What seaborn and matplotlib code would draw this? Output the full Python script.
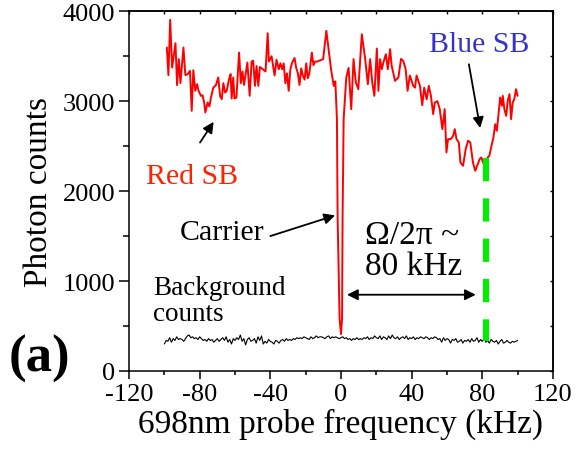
import numpy as np
import pandas as pd
import matplotlib
matplotlib.use("Agg")
import matplotlib.pyplot as plt
import seaborn as sns

# Fluorescence signal while scanning the 698 nm probe
probe_freq = [
    -98.6, -97.7, -96.7, -95.6, -93.7, -92.8, -91.8, -90.9, -89.2, -88.1,
    -86.8, -85.5, -84.5, -83.6, -82.5, -81.5, -80.6, -79.3, -78.4, -77.4,
    -76.8, -75.5, -74.5, -73.6, -72.3, -70.8, -69.5, -68.4, -67.5, -66.6,
    -65.6, -64.7, -63.4, -62.5, -61.9, -61.0, -60.3, -59.2, -57.7, -56.7,
    -55.8, -54.9, -53.0, -51.7, -50.6, -49.7, -48.7, -47.8, -46.8, -45.9,
    -44.6, -42.7, -41.5, -40.8, -39.3, -37.6, -36.5, -35.2, -34.3, -33.3,
    -32.4, -31.5, -30.6, -29.6, -28.7, -27.8, -26.3, -25.3, -24.4, -23.5,
    -22.5, -21.6, -20.6, -19.7, -18.8, -17.9, -16.5, -15.6, -14.7, -13.5,
    -10.1, -8.3, -7.0, -5.6, -4.1, -3.2, -2.3, -1.9, -0.8, 0.0,
    0.6, 0.9, 1.5, 3.0, 4.3, 5.8, 7.1, 8.4, 9.8, 11.8,
    13.7, 15.2, 16.5, 17.7, 18.9, 20.3, 21.2, 22.1, 23.1, 24.0,
    25.4, 26.5, 27.8, 28.7, 30.6, 32.5, 34.0, 35.3, 36.6, 37.7,
    39.0, 40.9, 41.9, 42.8, 44.7, 46.0, 47.1, 48.5, 49.7, 50.9,
    52.2, 53.1, 54.6, 55.9, 57.4, 58.7, 59.7, 60.6, 62.2, 63.5,
    64.4, 65.4, 66.7, 67.6, 69.1, 70.6, 71.9, 73.2, 74.7, 76.0,
    77.1, 78.5, 79.4, 80.8, 83.1, 84.0, 85.0, 86.3, 87.3, 88.2,
    89.2, 90.1, 91.1, 91.6, 92.5, 93.5, 94.4, 95.4, 96.3, 97.2,
    98.1, 99.1, 100.0,
]
photon_counts = [
    3596, 3289, 3904, 3374, 3644, 3178, 3467, 3200, 3596, 3289,
    3300, 3337, 2893, 3344, 3115, 3189, 3115, 3059, 3066, 2978,
    2874, 2985, 2941, 3040, 3150, 3178, 3263, 3052, 3022, 3200,
    3096, 3115, 3244, 3300, 3030, 3263, 3030, 3040, 3540, 3200,
    3330, 3180, 3430, 3060, 3440, 3450, 3170, 3390, 3170, 3380,
    3360, 3330, 3755, 3440, 3500, 3285, 3460, 3355, 3420, 3355,
    3420, 3200, 3310, 3115, 3350, 3420, 3480, 3365, 3310, 3180,
    3365, 3285, 3240, 3420, 3255, 3310, 3540, 3400, 3440, 3440,
    3467, 3782, 3570, 3350, 3170, 3220, 2800, 1700, 580, 410,
    580, 1700, 2800, 3264, 3370, 2911, 3467, 3211, 3133, 3744,
    3467, 3189, 3467, 3207, 3059, 3585, 3115, 3467, 3356, 3430,
    3522, 3356, 3578, 3392, 3226, 3263, 3470, 3445, 3356, 3115,
    3285, 3170, 3150, 3285, 3170, 2955, 3150, 3020, 3170, 3060,
    2855, 2985, 3000, 2911, 2689, 2911, 2430, 2578, 2578, 2615,
    2689, 2578, 2541, 2319, 2281, 2467, 2560, 2541, 2319, 2226,
    2281, 2356, 2374, 2300, 2374, 2393, 2485, 2596, 2744, 2670,
    2856, 3041, 2948, 3059, 2911, 2837, 3004, 3078, 2800, 2985,
    3022, 3133, 3059,
]

# Background counts, probe detuned from resonance (1 kHz steps)
bg_freq = list(range(-100, 101))
bg_counts = [
    300, 340, 330, 370, 320, 360, 340, 380, 350, 360, 350, 330, 360, 390, 400, 370, 380, 360, 370, 350,
    380, 360, 340, 350, 330, 360, 340, 350, 320, 340, 360, 330, 350, 370, 340, 380, 320, 350, 300, 360,
    340, 370, 350, 400, 330, 360, 290, 350, 370, 330, 340, 360, 310, 380, 340, 390, 300, 330, 310, 350,
    330, 320, 300, 340, 330, 310, 340, 350, 330, 360, 340, 350, 340, 360, 350, 370, 360, 370, 360, 380,
    370, 360, 350, 380, 360, 370, 390, 370, 380, 380, 370, 360, 380, 390, 360, 380, 370, 380, 370, 360,
    370, 380, 360, 370, 350, 360, 340, 360, 350, 370, 350, 360, 350, 370, 360, 380, 350, 370, 360, 390,
    370, 360, 390, 350, 380, 370, 350, 390, 360, 400, 370, 360, 380, 350, 370, 380, 360, 390, 350, 370,
    360, 380, 350, 370, 360, 380, 370, 360, 380, 370, 350, 370, 360, 380, 370, 350, 360, 320, 370, 340,
    360, 350, 310, 350, 340, 360, 320, 330, 350, 310, 340, 330, 350, 320, 360, 330, 340, 370, 320, 350,
    330, 360, 320, 340, 310, 350, 330, 320, 340, 300, 330, 350, 310, 320, 340, 320, 310, 330, 320, 330, 340,
]

# Blue sideband marker
sideband_freq = 82
sideband_range = [2370, 330]

x_ticks = [-120, -80, -40, 0, 40, 80, 120]
y_ticks = [0, 1000, 2000, 3000, 4000]

sns.set_style("ticks")
plt.rcParams["font.family"] = ["Liberation Serif", "DejaVu Serif"]
plt.rcParams["axes.unicode_minus"] = False
plt.rcParams["axes.linewidth"] = 1.1
plt.rcParams["text.color"] = "black"
plt.rcParams["axes.labelcolor"] = "black"
plt.rcParams["xtick.color"] = "black"
plt.rcParams["ytick.color"] = "black"
plt.rcParams["axes.edgecolor"] = "black"

fig = plt.figure(figsize=(5.76, 4.52), dpi=100)
ax = fig.add_axes([0.224, 0.177, 0.736, 0.796])

signal = pd.DataFrame({"freq": probe_freq, "counts": photon_counts})
background = pd.DataFrame({"freq": bg_freq, "counts": bg_counts})

sns.lineplot(data=signal, x="freq", y="counts", sort=False, estimator=None,
             color="#ff0000", linewidth=1.4, ax=ax, zorder=3)
sns.lineplot(data=background, x="freq", y="counts", sort=False, estimator=None,
             color="black", linewidth=0.8, ax=ax, zorder=3)
ax.plot([sideband_freq, sideband_freq], sideband_range, color="#00ee00",
        linewidth=4.4, dashes=(3.8, 2.8), solid_capstyle="butt", zorder=4)

ax.set_xlim(-120, 120)
ax.set_ylim(0, 4000)
ax.set_xticks(x_ticks)
ax.set_xticklabels([str(v) for v in x_ticks])
ax.set_yticks(y_ticks)
ax.set_yticklabels([str(v) for v in y_ticks])
ax.set_xticks(np.arange(-120, 121, 20), minor=True)
ax.set_yticks(np.arange(0, 4001, 500), minor=True)
ax.tick_params(axis="both", which="major", direction="out", labelsize=19,
               width=1.1, colors="black")
ax.tick_params(axis="y", which="major", length=7.5, pad=2.5)
ax.tick_params(axis="y", which="minor", length=4, width=1.1, direction="out")
ax.tick_params(axis="x", which="major", length=5.5, pad=3)
ax.tick_params(axis="x", which="minor", length=3, width=1.1, direction="out")
for s in ax.spines.values():
    s.set_visible(True)
    s.set_color("black")

top = ax.secondary_xaxis("top")
top.set_xticks(np.arange(-120, 121, 20))
top.set_xticklabels([])
top.tick_params(direction="in", length=2.5, width=1.0, colors="black")
right = ax.secondary_yaxis("right")
right.set_yticks(np.arange(0, 4001, 500))
right.set_yticklabels([])
right.tick_params(direction="in", length=2.5, width=1.0, colors="black")

ax.set_xlabel("698nm probe frequency (kHz)", fontsize=24, labelpad=2,
              color="black")
ax.set_ylabel("Photon counts", fontsize=24, labelpad=6, color="black")

arrow = dict(arrowstyle="-|>", color="black", lw=1.3, mutation_scale=16,
             shrinkA=0, shrinkB=0)
ax.text(-84.3, 2170, "Red SB", color="#ff2200", fontsize=21.5,
        ha="center", va="center")
ax.annotate("", xy=(-72.1, 2770), xytext=(-79.8, 2540), arrowprops=arrow)
ax.text(78.5, 3640, "Blue SB", color="#3333cc", fontsize=21.5,
        ha="center", va="center")
ax.annotate("", xy=(78.8, 2700), xytext=(72.4, 3410), arrowprops=arrow)
ax.text(-67.4, 1545, "Carrier", color="black", fontsize=21.5,
        ha="center", va="center")
ax.annotate("", xy=(-3.3, 1730), xytext=(-40, 1500), arrowprops=arrow)
ax.text(13.6, 1680, "Ω/2π ~\n80 kHz", color="black", fontsize=24,
        ha="left", va="top", linespacing=1.0)
ax.annotate("", xy=(76.3, 848), xytext=(3.4, 848),
            arrowprops=dict(arrowstyle="<|-|>", color="black", lw=1.3,
                            mutation_scale=16, shrinkA=0, shrinkB=0))
ax.text(-106.3, 1070, "Background\ncounts", color="black", fontsize=19.5,
        ha="left", va="top", linespacing=1.05)

fig.text(0.069, 0.205, "(a)", fontsize=38, fontweight="bold", color="black",
         ha="center", va="center")

fig.savefig("out.png", dpi=100)
